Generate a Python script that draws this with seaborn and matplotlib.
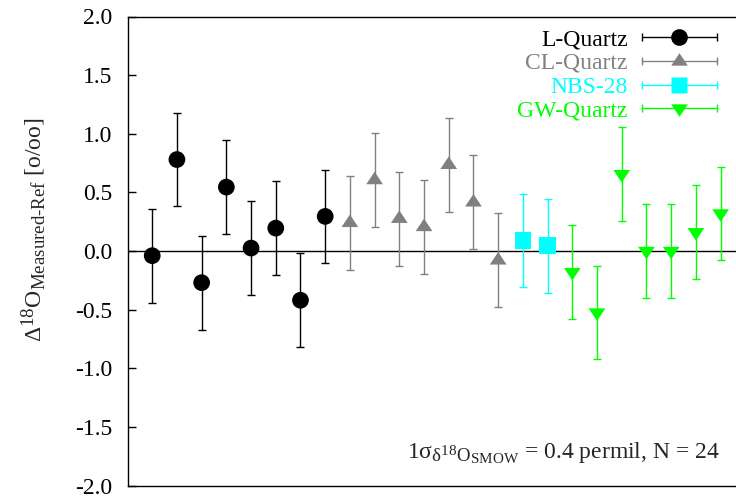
import matplotlib
matplotlib.use("Agg")
import numpy as np
import pandas as pd
import seaborn as sns
import matplotlib.pyplot as plt
from matplotlib.container import ErrorbarContainer
from matplotlib.legend_handler import HandlerErrorbar
try:
    import matplotlib._mathtext as _mt
    _mt.SHRINK_FACTOR = 0.8   # gnuplot-like sub/superscript size
except Exception:
    pass

# ---- data ----
l_quartz = [-0.04, 0.78, -0.27, 0.545, 0.025, 0.195, -0.42, 0.295]
cl_quartz = [0.24, 0.605, 0.275, 0.205, 0.735, 0.415, -0.08]
nbs28 = [0.09, 0.045]
gw_quartz = [-0.18, -0.525, 0.655, 0.0, 0.0, 0.16, 0.32]
sigma = 0.4
groups = ["L-Quartz", "CL-Quartz", "NBS-28", "GW-Quartz"]
yticks = [-2.0, -1.5, -1.0, -0.5, 0.0, 0.5, 1.0, 1.5, 2.0]

colors = {"L-Quartz": "#000000", "CL-Quartz": "#808080",
          "NBS-28": "#00ffff", "GW-Quartz": "#00ff00"}
tri_up = [(-1, -0.5), (1, -0.5), (0, 1.0), (-1, -0.5)]
tri_down = [(-1, 0.5), (1, 0.5), (0, -1.0), (-1, 0.5)]
markers = {"L-Quartz": "o", "CL-Quartz": tri_up, "NBS-28": "s", "GW-Quartz": tri_down}

values = [l_quartz, cl_quartz, nbs28, gw_quartz]
rows = []
for g, vals in zip(groups, values):
    for v in vals:
        rows.append((g, v))
df = pd.DataFrame(rows, columns=["group", "delta"])
df["sample"] = np.arange(1, len(df) + 1)

sns.set_theme(style="white")
plt.rcParams["font.family"] = ["Liberation Serif", "DejaVu Serif"]
plt.rcParams["mathtext.fontset"] = "custom"
plt.rcParams["mathtext.rm"] = "Liberation Serif"
plt.rcParams["mathtext.it"] = "Liberation Serif:italic"
plt.rcParams["mathtext.bf"] = "Liberation Serif:bold"
plt.rcParams["axes.unicode_minus"] = False

FS = 17
fig = plt.figure(figsize=(7.36, 4.97), dpi=100)
W, H = 736, 497
ax = fig.add_axes([127.5 / W, (H - 485.5) / H, (745.3 - 127.5) / W, (485.5 - 16.5) / H])

ax.axhline(0, color="black", lw=1.0, zorder=1)

CAP = 2.6
for g in groups:
    sub = df[df["group"] == g]
    ax.errorbar(sub["sample"], sub["delta"], yerr=sigma, fmt="none",
                ecolor=colors[g], elinewidth=1.0, capsize=CAP, capthick=1.0, zorder=2)

sns.scatterplot(data=df, x="sample", y="delta", hue="group", style="group",
                palette=colors, markers=markers, s=145, edgecolor="none",
                legend=False, ax=ax, zorder=3)

# legend proxies (horizontal error bars like the reference key)
handles = []
for g in groups:
    h = ax.errorbar([np.nan], [np.nan], xerr=[0.5], fmt="", marker=markers[g],
                    linestyle="none", color=colors[g],
                    ms=12.0, mec="none", ecolor=colors[g], elinewidth=1.0,
                    capsize=CAP, capthick=1.0, label=g)
    handles.append(h)
HL = 3.18
leg = ax.legend(handles, groups, loc="upper right",
                bbox_to_anchor=(717 / W, 1 - 28.5 / H), bbox_transform=fig.transFigure,
                frameon=False, markerfirst=False, handlelength=HL, handletextpad=0.6,
                labelspacing=0.1, borderpad=0, borderaxespad=0, fontsize=FS,
                labelcolor=[colors[g] for g in groups],
                handler_map={ErrorbarContainer: HandlerErrorbar(xerr_size=HL / 2)})

ax.set_xlim(0, 25)
ax.set_ylim(-2.0, 2.0)
ax.set_yticks(yticks)
ax.set_yticklabels([f"{t:.1f}" for t in yticks])
ax.set_xticks([])
ax.tick_params(axis="y", direction="in", length=6, width=1.0, labelsize=FS,
               pad=11, left=True, right=False, colors="black")
ax.set_xlabel("")
ax.set_ylabel(r"$\Delta^{18}\mathrm{O}_{\mathrm{Measured\text{-}Ref}}$ [o/oo]", fontsize=FS)
ax.yaxis.set_label_coords(-0.128, 0.545)
for sp in ax.spines.values():
    sp.set_color("black")
    sp.set_linewidth(1.0)

fig.text(720 / W, (H - 458) / H,
         r"1σ$_{\mathrm{\delta}^{18}\mathrm{O}_{\mathrm{SMOW}}}$ = 0.4 permil, N = 24",
         ha="right", va="baseline", fontsize=FS)

fig.savefig("out.png", dpi=100)
